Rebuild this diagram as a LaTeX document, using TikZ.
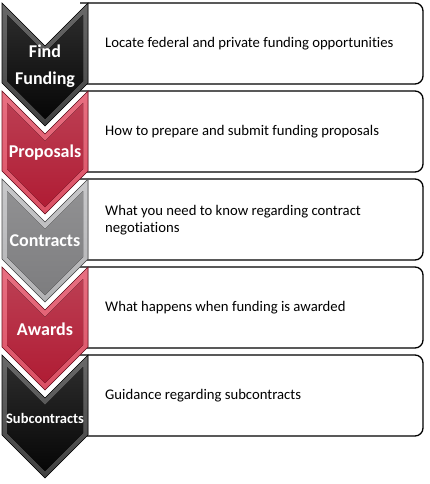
\documentclass[tikz,border=0pt]{standalone}
\usepackage{fontspec}
\setmainfont{Carlito}[Ligatures=NoCommon]
\definecolor{redbody}{RGB}{176,28,52}
\definecolor{rededge}{RGB}{218,80,100}
\definecolor{redtop}{RGB}{232,112,130}
\definecolor{graybody}{RGB}{125,125,127}
\definecolor{grayedge}{RGB}{178,178,180}
\definecolor{graytop}{RGB}{200,200,202}
\definecolor{blkbody}{RGB}{6,6,6}
\definecolor{blkedge}{RGB}{65,65,65}
\definecolor{blktop}{RGB}{105,105,105}
\newcommand\chevshape[4]{%
  \fill[top color=#2, bottom color=#3] (2,#1) -- (45,#1+43) -- (88,#1) -- (88,#1+80) -- (45,#1+123) -- (2,#1+80) -- cycle;
  \fill[top color=#4!85!white, bottom color=#4] (7,#1+12) -- (45,#1+50) -- (83,#1+12) -- (83,#1+78) -- (45,#1+116) -- (7,#1+78) -- cycle;
  \draw[#4!60!black, line width=0.6pt, line join=miter] (2,#1) -- (45,#1+43) -- (88,#1) -- (88,#1+80) -- (45,#1+123) -- (2,#1+80) -- cycle;
}
\newcommand\boxshape[1]{%
  \filldraw[fill=white, draw=black, line width=1.3pt, rounded corners=8pt] (80,#1) -- (423,#1) -- (423,#1+81) -- (80,#1+81);
}
\tikzset{
  boxtext/.style={anchor=west, align=left, inner sep=0pt, font=\fontsize{14.7}{16.5}\selectfont, text=black},
  labeltext/.style={anchor=center, align=center, inner sep=0pt, text=white, font=\bfseries\fontsize{18}{27}\selectfont},
}
\begin{document}
\begin{tikzpicture}[x=1pt, y=-1pt]
\useasboundingbox (0,0) rectangle (430,484);
\fill[white] (0,0) rectangle (430,484);
% boxes
\boxshape{3}
\boxshape{91}
\boxshape{179}
\boxshape{267}
\boxshape{355}
% chevrons (bottom to top so points overlap correctly)
\chevshape{355}{blktop}{blkedge}{blkbody}
\chevshape{267}{redtop}{rededge}{redbody}
\chevshape{179}{graytop}{grayedge}{graybody}
\chevshape{91}{redtop}{rededge}{redbody}
\chevshape{3}{blktop}{blkedge}{blkbody}
% box texts
\node[boxtext] (t1) at (105,44) {Locate federal and private funding opportunities};
\node[boxtext] (t2) at (105,132) {How to prepare and submit funding proposals};
\node[boxtext] (t3) at (105,220) {What you need to know regarding contract\\negotiations};
\node[boxtext] (t4) at (105,308) {What happens when funding is awarded};
\node[boxtext] (t5) at (105,396) {Guidance regarding subcontracts};
% labels
\node[labeltext] (l1) at (45,66) {Find\\Funding};
\node[labeltext] (l2) at (45,153) {Proposals};
\node[labeltext] (l3) at (45,241) {Contracts};
\node[labeltext] (l4) at (45,329) {Awards};
\node[labeltext, font=\bfseries\fontsize{14.5}{17}\selectfont] (l5) at (45,418) {Subcontracts};
\end{tikzpicture}
\end{document}
